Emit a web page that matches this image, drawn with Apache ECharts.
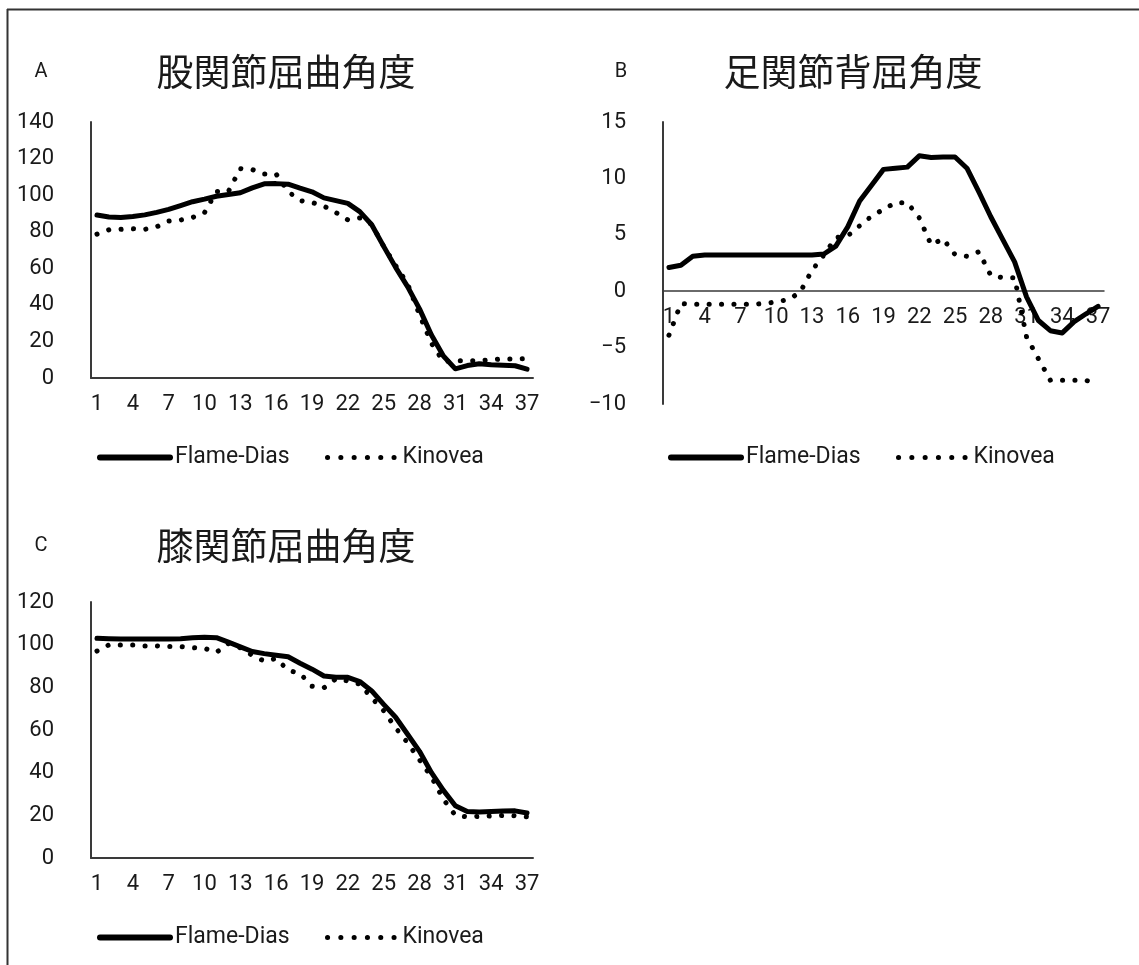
<!DOCTYPE html>
<html>
<head>
<meta charset="utf-8">
<title>関節角度</title>
<script src="https://cdn.jsdelivr.net/npm/echarts@6/dist/echarts.min.js"></script>
<style>
  html, body { margin: 0; padding: 0; background: #fff; }
  #chart { width: 1139px; height: 965px; }
</style>
</head>
<body>
<div id="chart"></div>
<script>
// Frame numbers 1..37
const frames = Array.from({ length: 37 }, (_, i) => String(i + 1));

// A: hip flexion angle (deg)
const hipFlame = [89.1, 88.0, 87.8, 88.3, 89.2, 90.6, 92.2, 94.3, 96.4, 97.8, 99.4, 100.3, 101.3, 104.0, 106.2,
  106.3, 106.0, 103.8, 101.8, 98.5, 97.0, 95.5, 91.0, 83.8, 72.0, 60.5, 50.0, 37.8, 23.5, 12.0,
  5.0, 6.8, 7.8, 7.2, 7.0, 6.7, 4.8];
const hipKinovea = [78.7, 81.0, 81.3, 81.6, 81.3, 82.7, 85.8, 86.4, 87.8, 90.4, 102.0, 102.0, 114.5, 114.0, 111.5,
  111.5, 102.0, 97.0, 96.0, 94.0, 90.5, 86.5, 87.5, 84.0, 72.0, 61.5, 51.5, 34.5, 19.0, 9.0,
  9.5, 9.5, 9.5, 10.0, 10.4, 10.4, 10.5];

// B: ankle dorsiflexion angle (deg)
const ankleFlame = [2.1, 2.3, 3.1, 3.2, 3.2, 3.2, 3.2, 3.2, 3.2, 3.2, 3.2, 3.2, 3.2, 3.3, 4.0,
  5.7, 8.0, 9.4, 10.8, 10.9, 11.0, 12.0, 11.85, 11.9, 11.9, 10.9, 8.8, 6.6, 4.6, 2.6,
  -0.5, -2.6, -3.5, -3.7, -2.7, -2.0, -1.35];
const ankleKinovea = [-3.9, -1.1, -1.15, -1.15, -1.15, -1.15, -1.15, -1.15, -1.1, -0.95, -0.75, -0.1, 1.85, 3.2, 4.75,
  4.9, 5.8, 6.65, 7.25, 7.85, 7.85, 6.5, 4.1, 4.65, 3.25, 3.1, 3.5, 1.4, 1.2, 1.2,
  -4.05, -6.0, -7.9, -7.9, -7.9, -7.9, -8.3];

// C: knee flexion angle (deg)
const kneeFlame = [103.0, 102.8, 102.7, 102.7, 102.7, 102.7, 102.7, 102.8, 103.2, 103.5, 103.3, 101.2, 99.0, 96.8, 95.8,
  95.0, 94.3, 91.3, 88.5, 85.3, 84.7, 84.7, 82.7, 78.3, 72.0, 66.0, 58.0, 50.0, 40.0, 31.7,
  24.5, 21.8, 21.6, 21.8, 22.0, 22.1, 21.1];
const kneeKinovea = [97.0, 99.9, 99.9, 99.9, 99.4, 99.4, 99.1, 99.1, 98.6, 98.3, 96.4, 100.5, 98.5, 95.0, 92.3,
  93.5, 88.0, 86.5, 80.5, 79.8, 84.0, 83.0, 81.5, 75.0, 69.0, 61.0, 54.0, 46.0, 38.0, 27.5,
  20.0, 19.3, 19.5, 19.7, 19.9, 19.8, 19.3];

// Axis ranges
const hipAxis = { min: 0, max: 140, interval: 20 };
const ankleAxis = { min: -10, max: 15, interval: 5 };
const kneeAxis = { min: 0, max: 120, interval: 20 };

const seriesNames = ['Flame-Dias', 'Kinovea'];
const panelTitles = ['股関節屈曲角度', '足関節背屈角度', '膝関節屈曲角度'];
const panelLetters = ['A', 'B', 'C'];

const numFont = 'Roboto, "Noto Sans", sans-serif';
const cjkFont = '"Noto Sans CJK JP", sans-serif';
const ink = '#1a1a1a';
const axisInk = '#3a3a3a';

const solidStyle = { color: '#000', width: 5, cap: 'round', join: 'round' };
const dotStyle = { color: '#000', width: 5, type: [0.1, 12.3], cap: 'round', join: 'round' };
const tickText = { fontFamily: numFont, fontSize: 22, color: ink };

// Plot areas for A, B, C, plus a label strip whose bottom edge sits on B's zero line
const grids = [
  { left: 91, top: 122, width: 442, height: 256 },
  { left: 663, top: 122, width: 441, height: 282 },
  { left: 91, top: 602, width: 442, height: 256 },
  { left: 663, top: 122, width: 441, height: 169 }
];

const ranges = [hipAxis, ankleAxis, kneeAxis];
const dataSets = [[hipFlame, hipKinovea], [ankleFlame, ankleKinovea], [kneeFlame, kneeKinovea]];

const xAxes = ranges.map((r, i) => ({
  type: 'category',
  gridIndex: i,
  data: frames,
  boundaryGap: true,
  axisTick: { show: false },
  axisLine: { show: true, onZero: true, lineStyle: { color: axisInk, width: i === 1 ? 1.5 : 2 } },
  axisLabel: Object.assign({ show: i !== 1, interval: 2, margin: 15 }, tickText),
  splitLine: { show: false }
}));
// frame labels for B, hung just under its zero line
xAxes.push({
  type: 'category',
  gridIndex: 3,
  data: frames,
  boundaryGap: true,
  axisTick: { show: false },
  axisLine: { show: false },
  axisLabel: Object.assign({ interval: 2, margin: 15 }, tickText),
  splitLine: { show: false }
});

// negative values use a true minus sign
const minusLabel = v => String(v).replace('-', '\u2212');

const yAxes = ranges.map((r, i) => ({
  type: 'value',
  gridIndex: i,
  min: r.min,
  max: r.max,
  interval: r.interval,
  axisLine: { show: true, lineStyle: { color: axisInk, width: 2 } },
  axisTick: { show: false },
  splitLine: { show: false },
  axisLabel: Object.assign({ margin: 37, formatter: minusLabel }, tickText)
}));
yAxes.push({ type: 'value', gridIndex: 3, min: 0, max: 1, show: false });

const series = [];
dataSets.forEach((pair, i) => {
  series.push({
    name: seriesNames[0], type: 'line', xAxisIndex: i, yAxisIndex: i,
    data: pair[0], symbol: 'none', z: 4, lineStyle: solidStyle, itemStyle: { color: '#000' }
  });
  series.push({
    name: seriesNames[1], type: 'line', xAxisIndex: i, yAxisIndex: i,
    data: pair[1], symbol: 'none', z: 3, lineStyle: dotStyle, itemStyle: { color: '#000' }
  });
});

// One legend entry per item so each can be placed under its panel
const legendRows = [
  { top: 446, solidLeft: 97, dotLeft: 325 },
  { top: 446, solidLeft: 668, dotLeft: 896 },
  { top: 926, solidLeft: 97, dotLeft: 325 }
];
const legendText = { fontFamily: numFont, fontSize: 23, color: ink };
const legends = [];
legendRows.forEach(r => {
  legends.push({
    data: [seriesNames[0]], left: r.solidLeft, top: r.top, padding: 0,
    itemWidth: 70, itemHeight: 14, itemGap: 0, selectedMode: false,
    itemStyle: { opacity: 0 },
    lineStyle: { width: 6, type: 'solid', cap: 'round' },
    textStyle: legendText
  });
  legends.push({
    data: [seriesNames[1]], left: r.dotLeft, top: r.top, padding: 0,
    itemWidth: 70, itemHeight: 14, itemGap: 0, selectedMode: false,
    itemStyle: { opacity: 0 },
    lineStyle: { width: 5, type: [0.1, 13.2], cap: 'round' },
    textStyle: legendText
  });
});

// Panel headings and frame lines
const headingPos = [
  { letterX: 41, titleX: 286, y: 72 },
  { letterX: 621, titleX: 853, y: 72 },
  { letterX: 41, titleX: 286, y: 546 }
];
const graphics = [];
headingPos.forEach((p, i) => {
  graphics.push({
    type: 'text', x: p.letterX, y: p.y,
    style: { text: panelLetters[i], textAlign: 'center', textVerticalAlign: 'middle',
      font: '20px ' + numFont, fill: ink }
  });
  graphics.push({
    type: 'text', x: p.titleX, y: p.y,
    style: { text: panelTitles[i], textAlign: 'center', textVerticalAlign: 'middle',
      font: '37px ' + cjkFont, fill: ink }
  });
});
graphics.push({ type: 'line', shape: { x1: 7, y1: 9.5, x2: 1139, y2: 9.5 }, style: { stroke: '#333', lineWidth: 2 } });
graphics.push({ type: 'line', shape: { x1: 7.5, y1: 9, x2: 7.5, y2: 965 }, style: { stroke: '#333', lineWidth: 2 } });

const chart = echarts.init(document.getElementById('chart'), null, { renderer: 'canvas' });
chart.setOption({
  animation: false,
  backgroundColor: '#fff',
  grid: grids,
  xAxis: xAxes,
  yAxis: yAxes,
  legend: legends,
  series: series,
  graphic: graphics
});
</script>
</body>
</html>
